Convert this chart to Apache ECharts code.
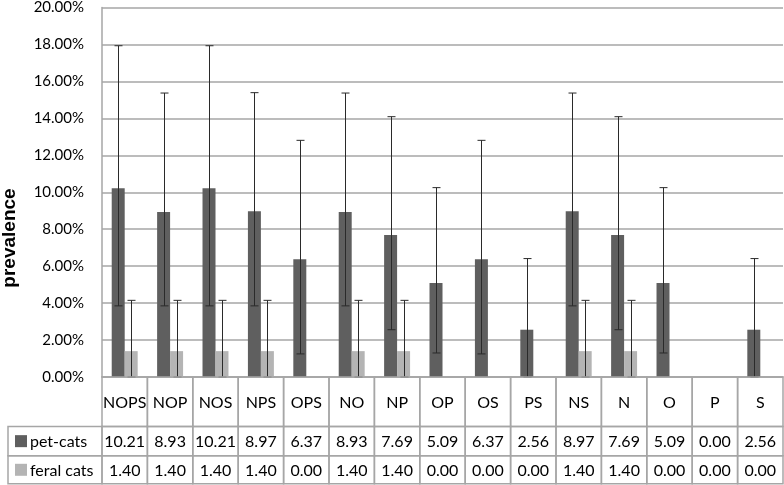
<!DOCTYPE html>
<html>
<head>
<meta charset="utf-8">
<script src="https://cdn.jsdelivr.net/npm/echarts@6/dist/echarts.min.js"></script>
<style>
  html, body { margin: 0; padding: 0; background: #fff; }
  #chart { width: 784px; height: 485px; }
</style>
</head>
<body>
<div id="chart"></div>
<script>
// categories and values (percent)
var categories = ['NOPS', 'NOP', 'NOS', 'NPS', 'OPS', 'NO', 'NP', 'OP', 'OS', 'PS', 'NS', 'N', 'O', 'P', 'S'];
var seriesNames = ['pet-cats', 'feral cats'];
var petCats = [10.21, 8.93, 10.21, 8.97, 6.37, 8.93, 7.69, 5.09, 6.37, 2.56, 8.97, 7.69, 5.09, 0.00, 2.56];
var feralCats = [1.40, 1.40, 1.40, 1.40, 0.00, 1.40, 1.40, 0.00, 0.00, 0.00, 1.40, 1.40, 0.00, 0.00, 0.00];
// error bar ends (null = no bar drawn)
var petLow = [3.85, 3.85, 3.85, 3.85, 1.25, 3.85, 2.56, 1.30, 1.25, 0.00, 3.85, 2.56, 1.30, null, 0.00];
var petHigh = [17.93, 15.37, 17.93, 15.39, 12.81, 15.37, 14.09, 10.25, 12.81, 6.41, 15.37, 14.09, 10.25, null, 6.41];
var feralLow = [0, 0, 0, 0, null, 0, 0, null, null, null, 0, 0, null, null, null];
var feralHigh = [4.15, 4.15, 4.15, 4.15, null, 4.15, 4.15, null, null, null, 4.15, 4.15, null, null, null];
var yTicks = [0, 2, 4, 6, 8, 10, 12, 14, 16, 18, 20];

var colors = ['#5f5f5f', '#b4b4b4'];
var BAR_FRAC = 0.286;
var lineCol = '#a6a6a6';
var font = 'Lato';

var myChart = echarts.init(document.getElementById('chart'));

function errData(low, high) {
  var out = [];
  low.forEach(function (v, i) {
    if (v !== null && high[i] !== null) out.push([i, v, high[i]]);
  });
  return out;
}

function errRender(side) {
  return function (params, api) {
    var idx = api.value(0);
    var w = api.size([1, 0])[0];
    var off = side * w * BAR_FRAC / 2;
    var lo = api.coord([idx, api.value(1)]);
    var hi = api.coord([idx, api.value(2)]);
    var x = Math.round(lo[0] + off) + 0.5;
    var cap = 4;
    var st = { stroke: '#2a2a2a', lineWidth: 1 };
    return {
      type: 'group',
      children: [
        { type: 'line', shape: { x1: x, y1: hi[1], x2: x, y2: lo[1] }, style: st },
        { type: 'line', shape: { x1: x - cap, y1: hi[1], x2: x + cap, y2: hi[1] }, style: st },
        { type: 'line', shape: { x1: x - cap, y1: lo[1], x2: x + cap, y2: lo[1] }, style: st }
      ]
    };
  };
}

function txt(t, cx, cy, align) {
  return {
    type: 'text',
    style: {
      text: t, x: cx, y: cy,
      textAlign: align || 'center', textVerticalAlign: 'middle',
      align: align || 'center', verticalAlign: 'middle',
      fill: '#000', font: '16px ' + font
    }
  };
}

// data table under the plot
var rowH = [49.5, 29.3, 28];
function tableRender(params, api) {
  var idx = api.value(0);
  var p = api.coord([idx, 0]);
  var w = api.size([1, 0])[0];
  var x0 = p[0] - w / 2;
  var y0 = p[1];
  var cellStyle = { fill: 'none', stroke: lineCol, lineWidth: 1.5 };
  var y1 = y0 + rowH[0], y2 = y1 + rowH[1], y3 = y2 + rowH[2];
  var ch = [
    { type: 'rect', shape: { x: x0, y: y0, width: w, height: rowH[0] }, style: cellStyle },
    { type: 'rect', shape: { x: x0, y: y1, width: w, height: rowH[1] }, style: cellStyle },
    { type: 'rect', shape: { x: x0, y: y2, width: w, height: rowH[2] }, style: cellStyle },
    txt(categories[idx], p[0], (y0 + y1) / 2 + 1),
    txt(api.value(1).toFixed(2), p[0], (y1 + y2) / 2 + 1),
    txt(api.value(2).toFixed(2), p[0], (y2 + y3) / 2 + 1)
  ];
  if (idx === 0) {
    // left column with legend keys
    [[y1, rowH[1]], [y2, rowH[2]]].forEach(function (r, k) {
      var cy = r[0] + r[1] / 2;
      ch.push({ type: 'rect', shape: { x: 8, y: r[0], width: x0 - 8, height: r[1] }, style: cellStyle });
      ch.push({ type: 'rect', shape: { x: 15, y: cy - 6, width: 12, height: 12 }, style: { fill: colors[k] } });
      ch.push(txt(seriesNames[k], 30, cy + 1, 'left'));
    });
  }
  return { type: 'group', children: ch };
}

myChart.setOption({
  animation: false,
  backgroundColor: '#fff',
  grid: { left: 102, right: 1, top: 7, bottom: 108 },
  graphic: [{
    type: 'text',
    x: 10,
    y: 238,
    rotation: Math.PI / 2,
    style: { text: 'prevalence', font: 'bold 19px "Liberation Sans"', fill: '#000', align: 'center', verticalAlign: 'middle' }
  }],
  xAxis: {
    type: 'category',
    data: categories,
    axisLine: { show: true, lineStyle: { color: lineCol, width: 1.5 } },
    axisTick: { show: false },
    axisLabel: { show: false }
  },
  yAxis: {
    type: 'value',
    min: yTicks[0],
    max: yTicks[yTicks.length - 1],
    interval: 2,
    axisLine: { show: true, lineStyle: { color: lineCol, width: 1.5 } },
    axisTick: { show: false },
    axisLabel: {
      margin: 18,
      fontFamily: font,
      fontSize: 15,
      color: '#000',
      formatter: function (v) { return v.toFixed(2) + '%'; }
    },
    splitLine: { show: true, lineStyle: { color: lineCol, width: 1.5 } }
  },
  series: [
    {
      name: seriesNames[0], type: 'bar', data: petCats,
      barWidth: (BAR_FRAC * 100) + '%', barGap: '0%',
      itemStyle: { color: colors[0] }
    },
    {
      name: seriesNames[1], type: 'bar', data: feralCats,
      barWidth: (BAR_FRAC * 100) + '%', barGap: '0%',
      itemStyle: { color: colors[1] }
    },
    {
      type: 'custom', name: 'pet err', renderItem: errRender(-1),
      data: errData(petLow, petHigh), z: 5, silent: true
    },
    {
      type: 'custom', name: 'feral err', renderItem: errRender(1),
      data: errData(feralLow, feralHigh), z: 5, silent: true
    },
    {
      type: 'custom', name: 'table', renderItem: tableRender,
      data: categories.map(function (c, i) { return [i, petCats[i], feralCats[i]]; }),
      z: 6, silent: true, clip: false
    }
  ]
});
</script>
</body>
</html>
